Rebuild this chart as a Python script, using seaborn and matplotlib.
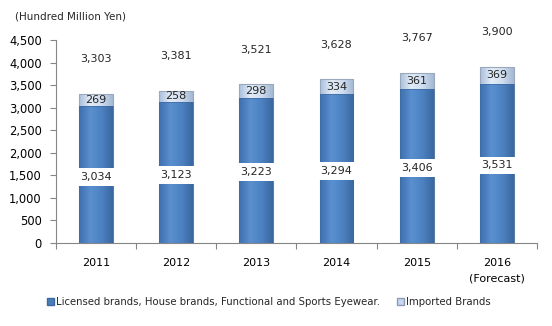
import numpy as np
import pandas as pd
import matplotlib
matplotlib.use("Agg")
import matplotlib.pyplot as plt
import seaborn as sns
from matplotlib.patches import Patch
from matplotlib.colors import LinearSegmentedColormap

years = ["2011", "2012", "2013", "2014", "2015", "2016\n(Forecast)"]
licensed = [3034, 3123, 3223, 3294, 3406, 3531]
imported = [269, 258, 298, 334, 361, 369]
totals = [3303, 3381, 3521, 3628, 3767, 3900]
yticks = [0, 500, 1000, 1500, 2000, 2500, 3000, 3500, 4000, 4500]

sns.set_theme(style="white")
plt.rcParams["font.family"] = ["DejaVu Sans"]

df = pd.DataFrame({"year": years, "licensed": licensed, "imported": imported, "total": totals})

fig = plt.figure(figsize=(5.52, 3.26), dpi=100)
ax = fig.add_axes([0.101, 0.2546, 0.872, 0.6224])

dark = "#4a7ebb"
light = "#c6d9f0"

sns.barplot(data=df, x="year", y="total", color=light, width=0.42, ax=ax,
            edgecolor="#9aa8bb", linewidth=0.8, saturation=1)
n_light = len(ax.patches)
sns.barplot(data=df, x="year", y="licensed", color=dark, width=0.42, ax=ax,
            edgecolor="#3d6aa0", linewidth=0.5, saturation=1)

cmap_dark = LinearSegmentedColormap.from_list("d", ["#3f6fae", "#5a8fd0", "#4d82c2", "#3a679f"])
cmap_light = LinearSegmentedColormap.from_list("l", ["#aac0dc", "#e3ecf7", "#d0def0", "#a3b8d4"])
grad = np.linspace(0, 1, 64).reshape(1, -1)
for k, p in enumerate(list(ax.patches)):
    x0, y0 = p.get_x(), p.get_y()
    w, h = p.get_width(), p.get_height()
    cm = cmap_light if k < n_light else cmap_dark
    base = 1 + 2 * k
    im = ax.imshow(grad, cmap=cm, aspect="auto", extent=(x0, x0 + w, y0, y0 + h),
                   zorder=base, interpolation="bilinear")
    im.set_clip_path(p)
    p.set_facecolor("none")
    p.set_zorder(base + 0.5)

ax.set_ylim(0, 4500)
ax.set_xlim(-0.5, len(years) - 0.5)
ax.set_yticks(yticks)
ax.set_yticklabels([f"{v:,}" for v in yticks], fontsize=8.3, color="black")
ax.set_xticks(range(len(years)))
ax.set_xticklabels(years, fontsize=8, color="black", linespacing=1.6)
ax.set_xlabel("")
ax.set_ylabel("")

for s in ["top", "right"]:
    ax.spines[s].set_visible(False)
for s in ["left", "bottom"]:
    ax.spines[s].set_color("#868686")
    ax.spines[s].set_linewidth(0.8)
    ax.spines[s].set_zorder(50)

ax.tick_params(axis="y", which="both", left=True, length=4, width=0.8, color="#868686", pad=6)
ax.tick_params(axis="x", which="major", bottom=False, length=0, pad=11)
ax.set_xticks(np.arange(-0.5, len(years) + 0.5, 1), minor=True)
ax.tick_params(axis="x", which="minor", bottom=True, length=4, width=0.8, color="#868686")

for i in range(len(years)):
    ax.text(i, licensed[i] / 2 - 45, f"{licensed[i]:,}", ha="center", va="center", fontsize=8,
            zorder=40, bbox=dict(boxstyle="square,pad=0.35", facecolor="white", edgecolor="none"))
    ax.text(i, licensed[i] + imported[i] / 2, f"{imported[i]:,}", ha="center", va="center",
            fontsize=8, zorder=40)
    ax.text(i, totals[i] + 770, f"{totals[i]:,}", ha="center", va="center", fontsize=8, zorder=40)

fig.text(0.027, 0.948, "(Hundred Million Yen)", fontsize=7.5, ha="left", va="center")

handles = [Patch(facecolor=dark, edgecolor="#3d6aa0"), Patch(facecolor=light, edgecolor="#8c9bb0")]
labels = ["Licensed brands, House brands, Functional and Sports Eyewear.", "Imported Brands"]
fig.legend(handles, labels, loc="center", bbox_to_anchor=(0.487, 0.073), ncol=2, frameon=False,
           fontsize=7.3, handlelength=0.7, handleheight=0.7, handletextpad=0.2, columnspacing=1.6)

fig.savefig("out.png", dpi=100)
